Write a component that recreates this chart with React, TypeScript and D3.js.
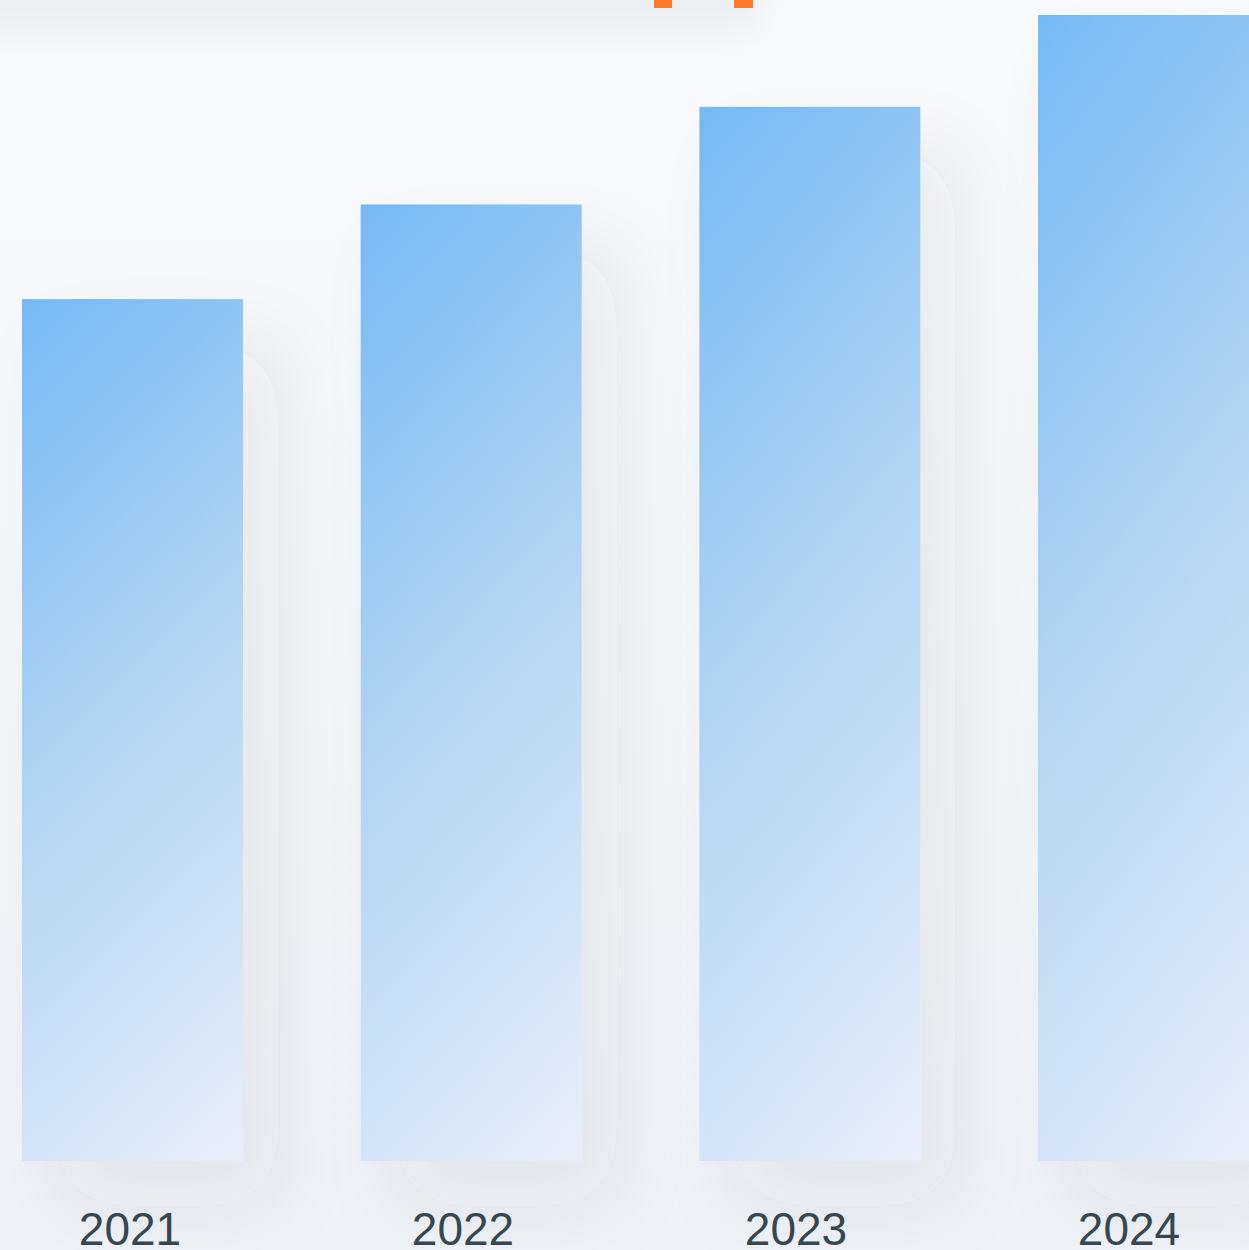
import React, { useEffect } from "react";
import * as d3 from "d3";

const years = ["2021", "2022", "2023", "2024"];
const values = [91, 101, 111.3, 121];

const W = 1249;
const H = 1250;

export default function App() {
  useEffect(() => {
    document.body.style.margin = "0";
  }, []);

  const x = d3
    .scaleBand<string>()
    .domain(years)
    .range([22, 1259])
    .paddingInner(0.3475)
    .paddingOuter(0);
  const xLabel = d3.scalePoint<string>().domain(years).range([130, 1129]);
  const y = d3.scaleLinear().domain([0, 121]).range([1161, 15]);

  return (
    <svg width={W} height={H} style={{ display: "block" }}>
      <defs>
        <linearGradient id="bg" x1="0" y1="0" x2="0" y2="1">
          <stop offset="0" stopColor="#f8fafc" />
          <stop offset="0.5" stopColor="#f4f7fa" />
          <stop offset="1" stopColor="#eff3f7" />
        </linearGradient>
        <linearGradient id="barGrad" x1="0" y1="0" x2="0.294" y2="1.176">
          <stop offset="0" stopColor="#76b9f5" />
          <stop offset="0.45" stopColor="#aed3f3" />
          <stop offset="1" stopColor="#eaeef8" />
        </linearGradient>
        <filter id="shadow" x="-60%" y="-20%" width="220%" height="140%">
          <feDropShadow dx="35" dy="45" stdDeviation="36" floodColor="#3c424a" floodOpacity="0.08" />
        </filter>
        <filter id="haze" x="-50%" y="-200%" width="200%" height="500%">
          <feGaussianBlur stdDeviation="18" />
        </filter>
      </defs>
      <rect x={0} y={0} width={W} height={H} fill="url(#bg)" />
      <rect x={-40} y={-40} width={800} height={70} fill="#dde2e6" opacity={0.45} filter="url(#haze)" />
      <rect x={654} y={-10} width={18} height={18} fill="#ff7a2b" />
      <rect x={734} y={-10} width={19} height={18} fill="#ff7a2b" />
      {years.map((yr, i) => (
        <rect
          key={yr}
          x={x(yr)}
          y={y(values[i])}
          width={x.bandwidth()}
          height={y(0) - y(values[i])}
          fill="url(#barGrad)"
          filter="url(#shadow)"
        />
      ))}
      {years.map((yr) => (
        <text
          key={"t" + yr}
          x={xLabel(yr)}
          y={1245}
          textAnchor="middle"
          fontFamily="'Liberation Sans', Arial, sans-serif"
          fontSize={46}
          fill="#37474f"
        >
          {yr}
        </text>
      ))}
    </svg>
  );
}
